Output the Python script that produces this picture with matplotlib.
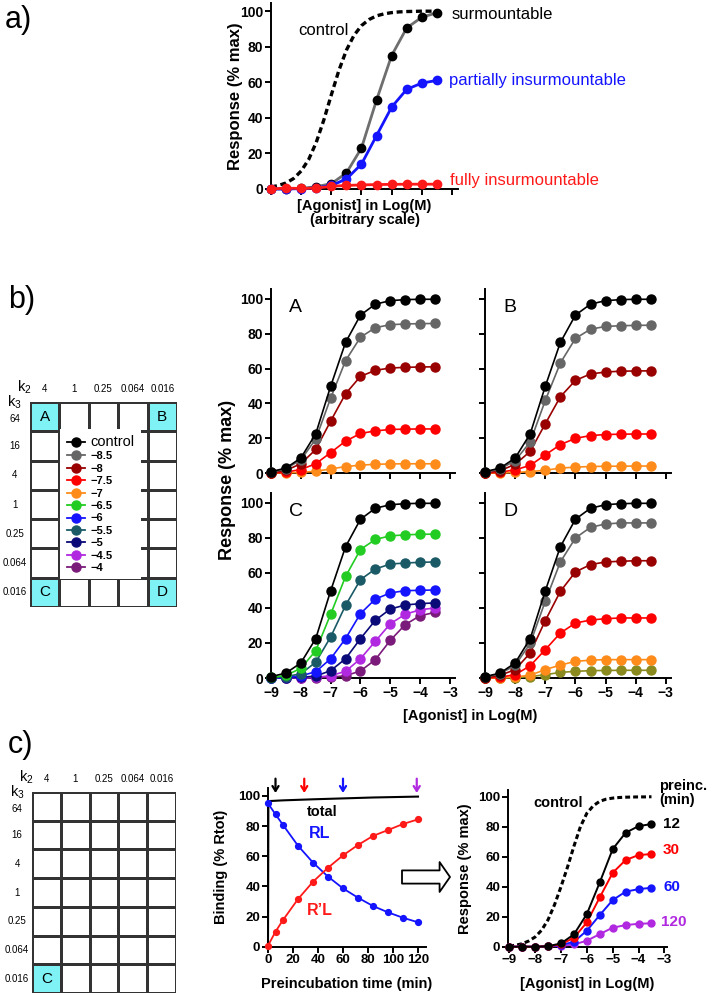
import matplotlib
matplotlib.use("Agg")
import matplotlib.pyplot as plt
from matplotlib.colors import ListedColormap
from matplotlib.lines import Line2D
from matplotlib.patches import FancyArrowPatch

plt.rcParams['font.family'] = ['Liberation Sans', 'DejaVu Sans']
plt.rcParams['mathtext.default'] = 'regular'

W, H = 709, 996

# ---------------- data ----------------
doses = [-9, -8.5, -8, -7.5, -7, -6.5, -6, -5.5, -5, -4.5, -4, -3.5]
fine_doses = [-9, -8.75, -8.5, -8.25, -8, -7.75, -7.5, -7.25, -7, -6.75, -6.5, -6.25,
              -6, -5.75, -5.5, -5.25, -5, -4.75, -4.5, -4.25, -4, -3.75, -3.5]

# panel a
a_control = [1.1, 2.0, 3.4, 5.9, 10.1, 16.6, 26.2, 38.7, 52.9, 66.6, 78.0, 86.3,
             91.8, 95.2, 97.3, 98.4, 99.1, 99.5, 99.7, 99.8, 99.9, 99.9, 100]
a_surm = [0, 0.1, 0.3, 1.3, 3, 9, 23, 50, 75, 90.5, 96.5, 99]
a_partial = [0, 0, 0.2, 0.6, 2, 5.6, 14, 30, 46, 56, 59.5, 61]
a_full = [0, 0.5, 0.3, 0.5, 1.5, 2, 2.3, 2.5, 2.6, 2.7, 2.7, 2.7]

# panel b (A-D), control curve common to all
b_control = [0.8, 2.8, 8.6, 22.5, 49.8, 75, 90.7, 97, 99, 99.6, 99.8, 99.8]
panel_A = {
    '#666666': [0.3, 2.5, 7.5, 19.5, 43, 64.5, 78, 83.5, 85.2, 85.6, 85.8, 85.9],
    '#990000': [0.2, 1.5, 5.3, 13.5, 29.8, 45.5, 55.5, 59, 60.3, 60.7, 60.9, 61],
    '#ff0000': [0, 0.5, 2, 5.3, 11.7, 18.3, 22.7, 24.2, 25, 25.2, 25.3, 25.3],
    '#ff8c1a': [0, 0.1, 0.3, 1, 2.3, 3.7, 4.5, 5, 5.2, 5.3, 5.3, 5.3],
}
panel_B = {
    '#666666': [0.4, 2.3, 7.1, 17.8, 41.7, 63.2, 77.3, 82.6, 84.2, 84.6, 84.8, 84.9],
    '#990000': [0.2, 1.3, 5, 12.4, 28.3, 43.8, 53.2, 56.9, 58, 58.5, 58.6, 58.7],
    '#ff0000': [0, 0.5, 1.8, 4.4, 10.4, 16.3, 19.9, 21.5, 22.1, 22.3, 22.4, 22.4],
    '#ff8c1a': [0, 0, 0.3, 0.8, 1.6, 2.8, 3.4, 3.7, 3.9, 3.9, 4.0, 4.0],
}
panel_C = {
    '#22cc22': [0.3, 1.5, 5.5, 15.6, 36.4, 58, 73.4, 79.2, 81.2, 81.8, 82.1, 82.2],
    '#1a5a66': [0.1, 0.8, 2.4, 9, 23.4, 41.5, 56.2, 62.3, 65.1, 65.7, 66.1, 66.3],
    '#1414ff': [0, 0.3, 1.2, 3.6, 11, 22.5, 36.8, 45.1, 48.6, 49.9, 50.1, 50.3],
    '#0a0a78': [0, 0.1, 0.4, 1.1, 4.2, 11, 22.5, 33, 39.4, 41.7, 42.5, 42.9],
    '#b028e0': [0, 0, 0.1, 0.4, 1.3, 3.8, 11, 21, 31, 36.4, 39, 40],
    '#7a1a7a': [0, 0, 0, 0.2, 0.5, 1.3, 4, 10.5, 21.5, 30.5, 35.6, 37.5],
}
panel_D = {
    '#666666': [0.4, 2.5, 7.2, 19.8, 43.9, 66.3, 80, 86.1, 88, 88.6, 88.6, 88.6],
    '#990000': [0.2, 1.5, 4.8, 14.3, 32.8, 49.5, 60.6, 64.8, 66.3, 66.7, 67, 67],
    '#ff0000': [0, 0.5, 1.9, 7, 16.2, 25.7, 31.4, 33.1, 33.9, 34.3, 34.3, 34.3],
    '#ff8c1a': [0, 0.1, 0.6, 1.6, 4.8, 7.4, 9.5, 10.2, 10.5, 10.5, 10.5, 10.5],
    '#8a8a1f': [0, 0, 0.2, 0.8, 1.9, 3.2, 3.8, 4.2, 4.3, 4.4, 4.4, 4.4],
}

legend_labels = ['control', '\u22128.5', '\u22128', '\u22127.5', '\u22127', '\u22126.5',
                 '\u22126', '\u22125.5', '\u22125', '\u22124.5', '\u22124']
legend_colors = ['black', '#666666', '#990000', '#ff0000', '#ff8c1a', '#22cc22',
                 '#1414ff', '#1a5a66', '#0a0a78', '#b028e0', '#7a1a7a']

k2_labels = ['4', '1', '0.25', '0.064', '0.016']
k3_labels = ['64', '16', '4', '1', '0.25', '0.064', '0.016']

# panel c binding
bind_time = [0, 6, 12, 24, 36, 48, 60, 72, 84, 96, 108, 120]
bind_RL = [95.1, 87.8, 80.8, 67, 55.8, 46.5, 38.7, 32.5, 27, 22.8, 19.2, 16.2]
bind_RpL = [0.7, 10, 17.7, 31.6, 43.1, 52.4, 60.6, 67.5, 73.5, 77.4, 81.4, 84.5]
total_time = [0, 0.3, 12, 36, 60, 84, 108, 120]
total_vals = [0, 96.6, 97.1, 97.8, 98.4, 99, 99.4, 99.6]
arrow_times = [6, 29, 60, 119]
arrow_colors = ['black', '#ff0000', '#1414ff', '#b028e0']

# panel c response
c_control = [0.5, 1, 2, 3.8, 6.5, 11, 18, 28, 40, 53, 67, 80,
             89, 94, 97, 98.4, 99.1, 99.5, 99.7, 99.8, 99.9, 99.9, 100]
preinc = ['12', '30', '60', '120']
preinc_colors = ['black', '#ff0000', '#1414ff', '#b028e0']
preinc_resp = [
    [0, 0, 0, 0.3, 2.2, 8.2, 21.8, 42.9, 65.1, 76, 80.4, 81.8],
    [0, 0, 0, 0.3, 1.5, 6, 16.2, 32.9, 49.3, 57.8, 61.1, 61.8],
    [0, 0, 0, 0.3, 1, 3.3, 10.7, 21.1, 31.1, 36.7, 38.4, 39.3],
    [0, 0, 0, 0.3, 0.5, 1.5, 4, 8.4, 12.7, 14.4, 15.3, 15.6],
]
preinc_label_y = [81.8, 64.5, 39.8, 16.5]

CYAN = '#7ff2f5'

fig = plt.figure(figsize=(W / 100, H / 100), dpi=100)


def px_axes(left, top, right, bottom):
    return fig.add_axes([left / W, 1 - bottom / H, (right - left) / W, (bottom - top) / H])


def style(ax, size=10, xlabels=True, ylabels=True):
    for s in ['top', 'right']:
        ax.spines[s].set_visible(False)
    for s in ['left', 'bottom']:
        ax.spines[s].set_linewidth(1.4)
    ax.tick_params(width=1.4, length=4, labelsize=size, pad=1.5)
    for lab in ax.get_xticklabels() + ax.get_yticklabels():
        lab.set_fontweight('bold')
    if not xlabels:
        ax.set_xticklabels([])
    if not ylabels:
        ax.set_yticklabels([])


def curve(ax, x, y, color, ms=6.5, lw=1.2, lc=None, z=3):
    ax.plot(x, y, color=lc or color, lw=lw, marker='o', ms=ms, mfc=color, mec=color,
            clip_on=False, zorder=z)


def table(ax, highlight, letters):
    cells = [[0] * 5 for _ in range(7)]
    for (r, c) in highlight:
        cells[r][c] = 1
    ax.pcolormesh(range(6), range(8), cells, cmap=ListedColormap(['white', CYAN]),
                  edgecolors='#333333', linewidth=0.9)
    ax.set_xlim(0, 5)
    ax.set_ylim(7, 0)
    ax.axis('off')
    for (r, c), t in zip(highlight, letters):
        ax.text(c + 0.5, r + 0.5, t, ha='center', va='center', fontsize=11)
    for i, t in enumerate(k2_labels):
        ax.text(i + 0.5, -0.45, t, ha='center', va='center', fontsize=7, clip_on=False)
    for i, t in enumerate(k3_labels):
        ax.text(-0.52, i + 0.5 + (0.08 if i == 0 else 0), t, ha='center', va='center',
                fontsize=7, clip_on=False)
    ax.text(-0.2, -0.5, 'k$_2$', ha='center', va='center', fontsize=10.5, clip_on=False)
    ax.text(-0.52, 0.02, 'k$_3$', ha='center', va='center', fontsize=10.5, clip_on=False)


# panel labels
fig.text(5 / W, 1 - 20 / H, 'a)', fontsize=22, va='center')
fig.text(8 / W, 1 - 300 / H, 'b)', fontsize=22, va='center')
fig.text(8 / W, 1 - 745 / H, 'c)', fontsize=22, va='center')

# ---------------- panel a ----------------
ax = px_axes(271, 3, 458, 189)
ax.plot(fine_doses, a_control, color='black', lw=2.4, ls=(0, (1.8, 1.1)), zorder=2)
curve(ax, doses, a_surm, 'black', ms=6, lw=2, lc='#6e6e6e', z=3)
curve(ax, doses, a_partial, '#1414ff', ms=6, lw=2, z=4)
curve(ax, doses, a_full, '#ff1a1a', ms=6, lw=2, z=5)
ax.set_xlim(-9, -2.8)
ax.set_ylim(0, 104.5)
ax.set_xticks(range(-9, -2))
ax.set_yticks(range(0, 101, 20))
style(ax, size=10, xlabels=False)
ax.set_ylabel('Response (% max)', fontsize=12, fontweight='bold')
ax.yaxis.set_label_coords(-0.15, 0.5)
ax.set_xlabel('[Agonist] in Log(M)\n(arbitrary scale)', fontsize=10.5, fontweight='bold',
              labelpad=1.5, linespacing=1.05)
ax.text(-8.1, 88.8, 'control', fontsize=12, va='center')
ax.text(-3.0, 97.8, 'surmountable', fontsize=12, va='center', clip_on=False)
ax.text(-3.1, 61.2, 'partially insurmountable', fontsize=12, va='center', color='#1414ff',
        clip_on=False)
ax.text(-3.07, 4.5, 'fully insurmountable', fontsize=12, va='center', color='#ff1a1a',
        clip_on=False)

# ---------------- panel b ----------------
tab_b = px_axes(30, 402, 177, 607)
table(tab_b, [(0, 0), (0, 4), (6, 0), (6, 4)], ['A', 'B', 'C', 'D'])
handles = [Line2D([], [], color=c, marker='o', ms=6.5, lw=1.3) for c in legend_colors]
leg = tab_b.legend(handles, legend_labels, loc='upper left', bbox_to_anchor=(0.207, 0.87),
                   frameon=True, facecolor='white', edgecolor='none', framealpha=1,
                   fancybox=False, borderpad=0.55, handlelength=1.7, handletextpad=0.45,
                   labelspacing=0.22, prop={'weight': 'bold', 'size': 8}, borderaxespad=0)
leg.get_texts()[0].set_fontweight('normal')
leg.get_texts()[0].set_fontsize(10.5)
leg.set_zorder(5)

boxes = {
    'A': ((271, 289, 455, 473), panel_A, True, False),
    'B': ((485, 289, 671, 473), panel_B, False, False),
    'C': ((271, 493, 455, 678), panel_C, True, True),
    'D': ((485, 493, 671, 678), panel_D, False, True),
}
for name, (box, series, ylab, xlab) in boxes.items():
    ax = px_axes(*box)
    for col, vals in reversed(list(series.items())):
        curve(ax, doses, vals, col)
    curve(ax, doses, b_control, 'black', z=4)
    ax.set_xlim(-9, -2.83)
    ax.set_ylim(0, 105.7)
    ax.set_xticks(range(-9, -2))
    ax.set_yticks(range(0, 101, 20))
    style(ax, size=10, xlabels=xlab, ylabels=ylab)
    ax.text(0.1, 0.9, name, transform=ax.transAxes, fontsize=14, va='center')

fig.text(228 / W, 1 - 480 / H, 'Response (% max)', rotation=90, fontsize=13,
         fontweight='bold', ha='center', va='center')
fig.text(470 / W, 1 - 716 / H, '[Agonist] in Log(M)', fontsize=10.5, fontweight='bold',
         ha='center', va='center')

# ---------------- panel c ----------------
tab_c = px_axes(32, 792, 176, 993)
table(tab_c, [(6, 0)], ['C'])

ax = px_axes(268, 788, 426, 946.7)
ax.plot(total_time, total_vals, color='black', lw=1.5, clip_on=False, zorder=2)
curve(ax, bind_time, bind_RL, '#1414ff', ms=4.2, lw=1.3)
curve(ax, bind_time, bind_RpL, '#ff1a1a', ms=4.2, lw=1.3)
ax.set_xlim(0, 126.4)
ax.set_ylim(0, 105.3)
ax.set_xticks(range(0, 121, 20))
ax.set_yticks(range(0, 101, 20))
style(ax, size=9.5)
ax.set_ylabel('Binding (% Rtot)', fontsize=10.5, fontweight='bold')
ax.yaxis.set_label_coords(-0.25, 0.5)
ax.set_xlabel('Preincubation time (min)', fontsize=10.5, fontweight='bold', labelpad=8)
for t, col in zip(arrow_times, arrow_colors):
    ax.annotate('', xy=(t, 102), xytext=(t, 111.5), annotation_clip=False,
                arrowprops=dict(arrowstyle='->,head_length=0.35,head_width=0.22',
                                color=col, lw=1.6, shrinkA=0, shrinkB=0))
ax.text(31, 89.4, 'total', fontsize=10.5, fontweight='bold', va='center')
ax.text(32.7, 75.4, 'RL', fontsize=11.5, fontweight='bold', va='center', color='#1414ff')
ax.text(31, 24.3, 'R\u2019L', fontsize=11.5, fontweight='bold', va='center', color='#ff1a1a')

fig.patches.append(FancyArrowPatch((402 / W, 1 - 877 / H), (450 / W, 1 - 877 / H),
                                   transform=fig.transFigure, mutation_scale=10,
                                   arrowstyle='simple,head_length=0.75,head_width=2.15,tail_width=0.95',
                                   facecolor='white', edgecolor='black', lw=1.3,
                                   shrinkA=0, shrinkB=0))

ax = px_axes(508, 790, 667, 946.7)
ax.plot(fine_doses, c_control, color='black', lw=2.2, ls=(0, (1.6, 1.0)), zorder=2)
for vals, col in reversed(list(zip(preinc_resp, preinc_colors))):
    curve(ax, doses, vals, col, ms=5, lw=1.4)
ax.set_xlim(-9.05, -2.9)
ax.set_ylim(0, 104.5)
ax.set_xticks(range(-9, -2))
ax.set_yticks(range(0, 101, 20))
style(ax, size=9.5)
ax.set_ylabel('Response (% max)', fontsize=10.5, fontweight='bold')
ax.yaxis.set_label_coords(-0.227, 0.5)
ax.set_xlabel('[Agonist] in Log(M)', fontsize=10.5, fontweight='bold', labelpad=8)
ax.text(-8.08, 95.8, 'control', fontsize=10.5, fontweight='bold', va='center')
ax.text(-3.2, 102.5, 'preinc.\n(min)', fontsize=10.5, fontweight='bold', va='center',
        clip_on=False, linespacing=1.0)
for t, col, yy in zip(preinc, preinc_colors, preinc_label_y):
    ax.text(-3.15 if len(t) > 2 else -3.05, yy, t, fontsize=11, fontweight='bold',
            color=col, va='center', clip_on=False)

fig.savefig('out.png', dpi=100)
